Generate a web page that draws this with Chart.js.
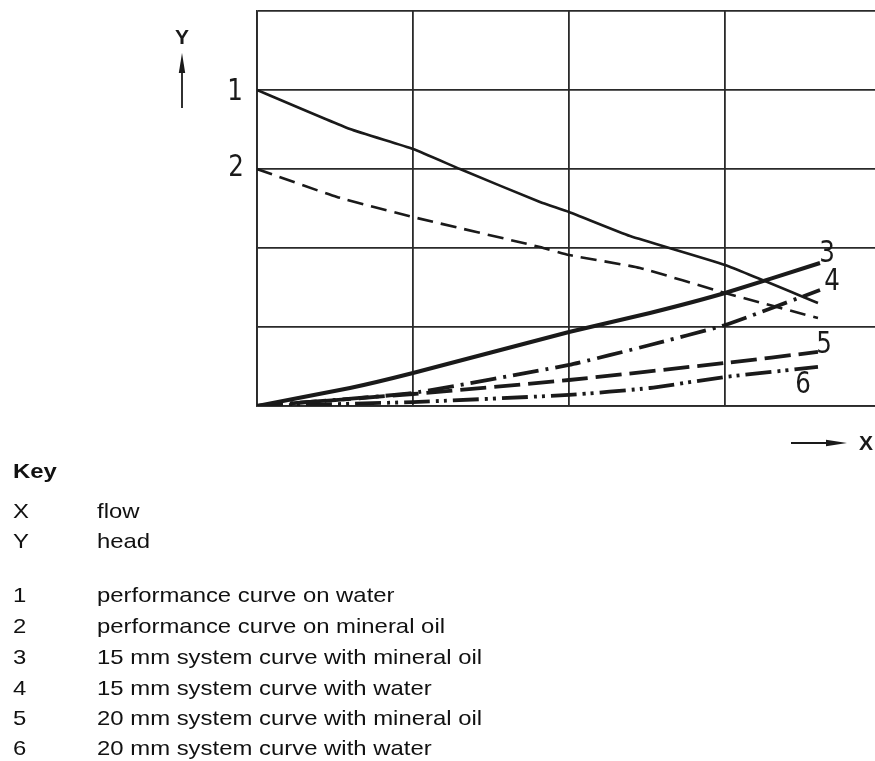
<!DOCTYPE html>
<html>
<head>
<meta charset="utf-8">
<script src="https://cdn.jsdelivr.net/npm/chart.js@4/dist/chart.umd.min.js"></script>
<style>
  html, body { margin: 0; padding: 0; background: #fff; overflow: hidden; width: 875px; height: 761px; }
  #wrap { position: absolute; left: 0; top: 0; width: 900px; height: 761px; }
  .key { position: absolute; font-family: "Liberation Sans", Arial, sans-serif; font-size: 21px; line-height: 21px; color: #111; white-space: nowrap; transform: scaleX(1.138); transform-origin: left top; }
  .key.b { font-weight: bold; }
</style>
</head>
<body>
<div id="wrap"><canvas id="c" width="900" height="761"></canvas></div>
<div id="keybox"></div>
<script>
// ---- data (grid units: x = flow, y = head) ----
const curveLabels = ['1', '2', '3', '4', '5', '6'];
const keyNames = [
  'performance curve on water',
  'performance curve on mineral oil',
  '15 mm system curve with mineral oil',
  '15 mm system curve with water',
  '20 mm system curve with mineral oil',
  '20 mm system curve with water'
];
const axisKey = [['X', 'flow'], ['Y', 'head']];

const x1 = [0, 0.596, 1.0, 1.301, 1.814, 2.0, 2.391, 3.0, 3.596];
const y1 = [4.0, 3.506, 3.253, 3.0, 2.582, 2.456, 2.152, 1.785, 1.304];
const x2 = [0, 0.513, 1.0, 1.814, 2.0, 2.455, 3.0, 3.596];
const y2 = [3.0, 2.646, 2.392, 2.013, 1.911, 1.747, 1.43, 1.114];
const x3 = [0, 0.596, 1.0, 2.0, 2.519, 3.0, 3.609];
const y3 = [0, 0.228, 0.418, 0.937, 1.177, 1.43, 1.81];
const x4 = [0, 0.5, 1.0, 2.0, 2.519, 3.0, 3.609];
const y4 = [0, 0.076, 0.165, 0.52, 0.772, 1.025, 1.468];
const x5 = [0, 1.0, 2.0, 3.0, 3.596];
const y5 = [0, 0.152, 0.329, 0.544, 0.684];
const x6 = [0, 1.0, 2.0, 2.519, 3.0, 3.596];
const y6 = [0, 0.05, 0.14, 0.228, 0.367, 0.494];

const xMin = 0, xMax = 4, yMin = 0, yMax = 5;

// ---- build ----
const pts = (xs, ys) => xs.map((x, i) => ({ x: x, y: ys[i] }));
const series = [[x1, y1], [x2, y2], [x3, y3], [x4, y4], [x5, y5], [x6, y6]];
const styles = [
  { w: 2.6, dash: [] },
  { w: 2.6, dash: [16, 8] },
  { w: 4.0, dash: [] },
  { w: 3.8, dash: [26, 7, 3, 7] },
  { w: 3.8, dash: [26, 8] },
  { w: 3.8, dash: [26, 6, 3, 5, 3, 6] }
];
// label offsets (px) relative to first (1,2) or last (3-6) point
const labelOffsets = [[-22, 2, 'first'], [-21, -1, 'first'], [7, -9, 'last'], [12, -8, 'last'], [6, -7, 'last'], [-15, 18, 'last']];

const datasets = series.map((s, i) => ({
  label: curveLabels[i],
  data: pts(s[0], s[1]),
  showLine: true,
  borderColor: '#1a1a1a',
  borderWidth: styles[i].w,
  borderDash: styles[i].dash,
  pointRadius: 0,
  tension: 0.15,
  fill: false
}));

const annot = {
  id: 'annot',
  afterDraw(chart) {
    const ctx = chart.ctx;
    const xs = chart.scales.x, ys = chart.scales.y;
    ctx.save();
    ctx.fillStyle = '#1a1a1a';
    ctx.strokeStyle = '#1a1a1a';
    // curve labels
    ctx.font = '31px "Liberation Sans Narrow", "DejaVu Sans Condensed", sans-serif';
    ctx.textAlign = 'center';
    ctx.textBaseline = 'middle';
    series.forEach((s, i) => {
      const o = labelOffsets[i];
      const idx = o[2] === 'first' ? 0 : s[0].length - 1;
      const px = xs.getPixelForValue(s[0][idx]) + o[0];
      const py = ys.getPixelForValue(s[1][idx]) + o[1];
      ctx.save();
      ctx.translate(px, py);
      ctx.scale(0.88, 1);
      ctx.fillText(curveLabels[i], 0, 0);
      ctx.restore();
    });
    // Y axis arrow + label
    const ax = xs.left - 75;
    ctx.lineWidth = 1.8;
    ctx.beginPath(); ctx.moveTo(ax, ys.top + 97); ctx.lineTo(ax, ys.top + 58); ctx.stroke();
    ctx.beginPath(); ctx.moveTo(ax, ys.top + 42); ctx.lineTo(ax - 3.2, ys.top + 62); ctx.lineTo(ax + 3.2, ys.top + 62); ctx.closePath(); ctx.fill();
    ctx.font = 'bold 21px "Liberation Sans", sans-serif';
    ctx.fillText('Y', ax, ys.top + 27);
    // X axis arrow + label
    const ay = ys.bottom + 37;
    ctx.beginPath(); ctx.moveTo(791, ay); ctx.lineTo(832, ay); ctx.stroke();
    ctx.beginPath(); ctx.moveTo(847, ay); ctx.lineTo(826, ay - 3.2); ctx.lineTo(826, ay + 3.2); ctx.closePath(); ctx.fill();
    ctx.fillText('X', 866, ay + 1);
    ctx.restore();
  }
};

new Chart(document.getElementById('c'), {
  type: 'scatter',
  data: { datasets: datasets },
  options: {
    responsive: false,
    animation: false,
    layout: { padding: { left: 257, top: 11, right: 19, bottom: 355 } },
    plugins: { legend: { display: false }, tooltip: { enabled: false } },
    scales: {
      x: {
        type: 'linear', min: xMin, max: xMax,
        ticks: { display: false, stepSize: 1 },
        grid: { color: '#2a2a2a', lineWidth: 1.8, drawTicks: false },
        border: { color: '#2a2a2a', width: 1.8 }
      },
      y: {
        type: 'linear', min: yMin, max: yMax,
        ticks: { display: false, stepSize: 1 },
        grid: { color: '#2a2a2a', lineWidth: 1.8, drawTicks: false },
        border: { color: '#2a2a2a', width: 1.8 }
      }
    }
  },
  plugins: [annot]
});

// ---- key (HTML text) ----
const kb = document.getElementById('keybox');
function addKey(text, left, baseline, bold) {
  const d = document.createElement('div');
  d.className = 'key' + (bold ? ' b' : '');
  d.textContent = text;
  d.style.left = left + 'px';
  d.style.top = (baseline - 18) + 'px';
  kb.appendChild(d);
}
addKey('Key', 13, 478, true);
const axisBase = [518, 548];
axisKey.forEach((k, i) => { addKey(k[0], 13, axisBase[i]); addKey(k[1], 97, axisBase[i]); });
const keyBase = [602, 633, 664, 695, 725, 755];
keyNames.forEach((n, i) => { addKey(curveLabels[i], 13, keyBase[i]); addKey(n, 97, keyBase[i]); });
</script>
</body>
</html>
